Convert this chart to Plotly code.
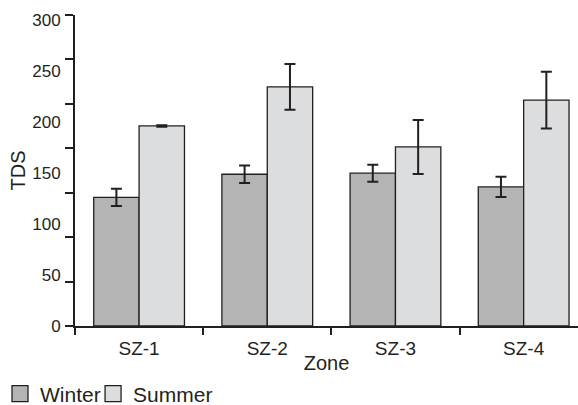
import numpy as np
import plotly.graph_objects as go

# ---- data ----
CATEGORIES = ["SZ-1", "SZ-2", "SZ-3", "SZ-4"]
WINTER = [126, 148.7, 149.7, 136.3]
WINTER_ERR = [8.5, 8.6, 8.3, 10.0]
SUMMER = [196, 234.3, 175.4, 221.3]
SUMMER_ERR = [0.7, 22.5, 26.4, 27.7]
Y_TICK_VALUES = [0, 50, 100, 150, 200, 250, 300]
Y_TICK_LABELS = ["0", "50", "100", "150", "200", "250", "300"]

# ---- style ----
INK = "#231f20"
WINTER_FILL = "#b4b4b5"
SUMMER_FILL = "#dcddde"
FONT = "Liberation Sans, Arial, sans-serif"
Y_TOP = 304.7
TICK_MARKS = list(np.arange(8) * (Y_TOP / 7))

fig = go.Figure()
fig.add_trace(go.Bar(
    name="Winter", x=CATEGORIES, y=WINTER, showlegend=False,
    marker=dict(color=WINTER_FILL, line=dict(color=INK, width=1.3)),
    error_y=dict(type="data", array=WINTER_ERR, color=INK, thickness=2, width=5.5),
))
fig.add_trace(go.Bar(
    name="Summer", x=CATEGORIES, y=SUMMER, showlegend=False,
    marker=dict(color=SUMMER_FILL, line=dict(color=INK, width=1.3)),
    error_y=dict(type="data", array=SUMMER_ERR, color=INK, thickness=2, width=5.5),
))
# legend entries (large square swatches)
for nm, col, lg in (("Winter", WINTER_FILL, "legend"), ("Summer", SUMMER_FILL, "legend2")):
    fig.add_trace(go.Scatter(
        x=[None], y=[None], mode="markers", name=nm, hoverinfo="skip", legend=lg,
        marker=dict(symbol="square", size=16, color=col, line=dict(color=INK, width=1.3)),
    ))
# invisible trace binding the label axis
fig.add_trace(go.Scatter(x=[CATEGORIES[0]], y=[None], yaxis="y2",
                         showlegend=False, hoverinfo="skip", mode="markers"))

legend_common = dict(orientation="h", xref="container", yref="container",
                     y=0.027, xanchor="left", yanchor="middle",
                     font=dict(size=21, color=INK), bgcolor="rgba(0,0,0,0)",
                     itemwidth=30, itemsizing="trace")

fig.update_layout(
    width=578, height=405,
    margin=dict(l=74.5, r=0, t=14.7, b=78.5, pad=0, autoexpand=False),
    paper_bgcolor="white", plot_bgcolor="white",
    barmode="group", bargap=0.292, bargroupgap=0,
    font=dict(family=FONT, color=INK, size=19),
    showlegend=True,
    legend=dict(x=0.0, **legend_common),
    legend2=dict(x=0.161, **legend_common),
    xaxis=dict(
        range=[-0.5, 3.424], showline=True, linecolor=INK, linewidth=1.5,
        ticks="outside", tickson="boundaries", ticklen=7, tickwidth=1.5, tickcolor=INK,
        showgrid=False, zeroline=False, ticklabelstandoff=4, automargin=True,
        tickfont=dict(size=19, color=INK),
        title=dict(text="Zone", font=dict(size=20, color=INK), standoff=9),
    ),
    yaxis=dict(
        range=[0, Y_TOP], showline=True, linecolor=INK, linewidth=1.5,
        tickmode="array", tickvals=TICK_MARKS, showticklabels=False,
        ticks="outside", ticklen=8, tickwidth=1.5, tickcolor=INK,
        showgrid=False, zeroline=False, automargin=False,
    ),
    yaxis2=dict(
        overlaying="y", side="left", anchor="x", range=[0, Y_TOP],
        tickmode="array", tickvals=Y_TICK_VALUES, ticktext=Y_TICK_LABELS,
        ticks="outside", ticklen=10, tickcolor="rgba(0,0,0,0)",
        showline=False, showgrid=False, zeroline=False, automargin=False,
        tickfont=dict(size=17, color=INK),
        title=dict(text="TDS", font=dict(size=20, color=INK), standoff=1),
    ),
)

fig.write_html("out.html")
